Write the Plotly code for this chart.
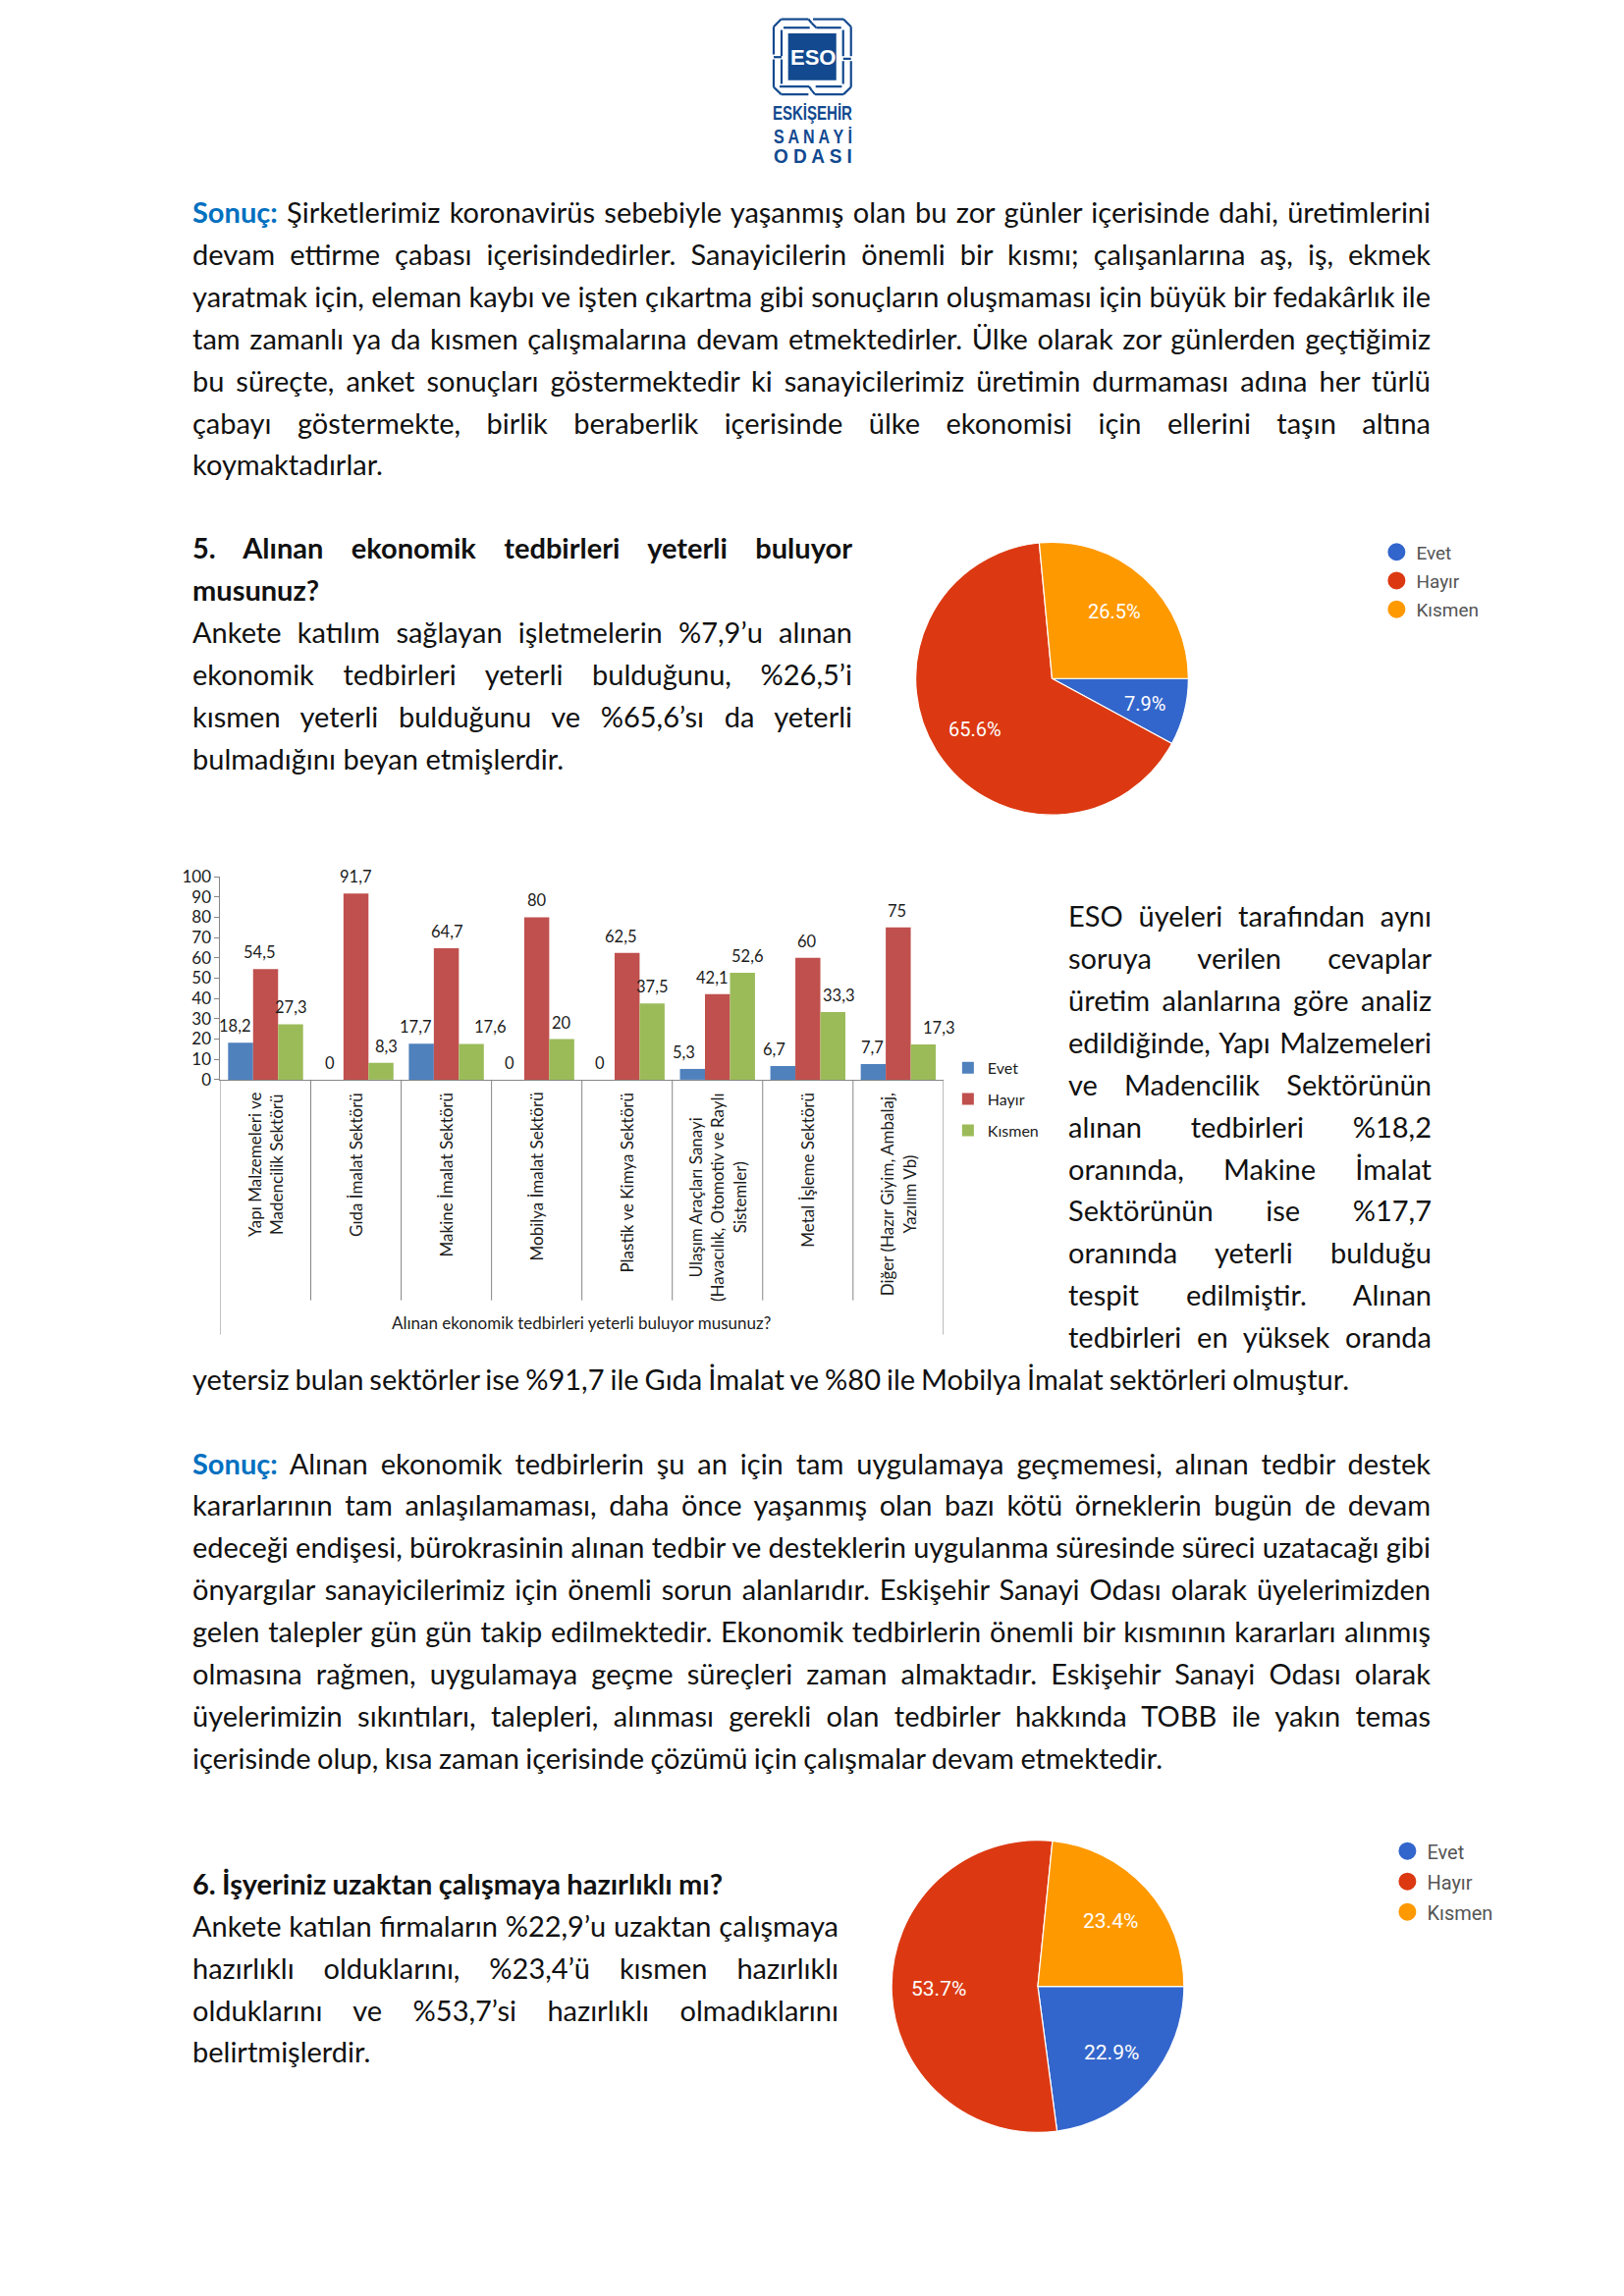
import plotly.graph_objects as go

W, H = 1654, 2339
def fx(p): return (1.0012 * p - 3.3) / W
def fy(p): return 1 - (1.00813 * p - 12.2) / H

# ---------- chart data ----------
CATEGORIES = ["Yapı Malzemeleri ve<br>Madencilik Sektörü", "Gıda İmalat Sektörü", "Makine İmalat Sektörü",
              "Mobilya İmalat Sektörü", "Plastik ve Kimya Sektörü",
              "Ulaşım Araçları Sanayi<br>(Havacılık, Otomotiv ve Raylı<br>Sistemler)",
              "Metal İşleme Sektörü", "Diğer (Hazır Giyim, Ambalaj,<br>Yazılım Vb)"]
SERIES_NAMES = ["Evet", "Hayır", "Kısmen"]
EVET = [18.2, 0, 17.7, 0, 0, 5.3, 6.7, 7.7]
HAYIR = [54.5, 91.7, 64.7, 80, 62.5, 42.1, 60, 75]
KISMEN = [27.3, 8.3, 17.6, 20, 37.5, 52.6, 33.3, 17.3]
BAR_TICKS = [0, 10, 20, 30, 40, 50, 60, 70, 80, 90, 100]
AXIS_TITLE = "Alınan ekonomik tedbirleri yeterli buluyor musunuz?"
PIE1 = [7.9, 65.6, 26.5]
PIE2 = [22.9, 53.7, 23.4]

# small horizontal nudges of the value labels (px)
NUDGE_EVET = [-6, -1, -6, -2, -2, -9, -9, -1]
NUDGE_HAYIR = [-6, -1, 0, 0, -7, -6, -1, -1]
NUDGE_KISMEN = [0, 6, 19, 0, 0, 5, 6, 16]

# ---------- page text ----------
LEFT, RIGHT = 197, 1458
BLOCK1 = ["<b><span style='color:#0070C0'>Sonuç:</span></b> Şirketlerimiz koronavirüs sebebiyle yaşanmış olan bu zor günler içerisinde dahi, üretimlerini",
          "devam ettirme çabası içerisindedirler. Sanayicilerin önemli bir kısmı; çalışanlarına aş, iş, ekmek",
          "yaratmak için, eleman kaybı ve işten çıkartma gibi sonuçların oluşmaması için büyük bir fedakârlık ile",
          "tam zamanlı ya da kısmen çalışmalarına devam etmektedirler. Ülke olarak zor günlerden geçtiğimiz",
          "bu süreçte, anket sonuçları göstermektedir ki sanayicilerimiz üretimin durmaması adına her türlü",
          "çabayı göstermekte, birlik beraberlik içerisinde ülke ekonomisi için ellerini taşın altına"]
BLOCK1_LAST = "koymaktadırlar."
BLOCK2 = ["<b>5. Alınan ekonomik tedbirleri yeterli buluyor</b>"]
BLOCK2B = ["Ankete katılım sağlayan işletmelerin %7,9’u alınan",
           "ekonomik tedbirleri yeterli bulduğunu, %26,5’i",
           "kısmen yeterli bulduğunu ve %65,6’sı da yeterli"]
BLOCK3 = ["ESO üyeleri tarafından aynı", "soruya verilen cevaplar", "üretim alanlarına göre analiz",
          "edildiğinde, Yapı Malzemeleri", "ve Madencilik Sektörünün", "alınan tedbirleri %18,2",
          "oranında, Makine İmalat", "Sektörünün ise %17,7", "oranında yeterli bulduğu",
          "tespit edilmiştir. Alınan", "tedbirleri en yüksek oranda"]
BLOCK4 = ["<b><span style='color:#0070C0'>Sonuç:</span></b> Alınan ekonomik tedbirlerin şu an için tam uygulamaya geçmemesi, alınan tedbir destek",
          "kararlarının tam anlaşılamaması, daha önce yaşanmış olan bazı kötü örneklerin bugün de devam",
          "edeceği endişesi, bürokrasinin alınan tedbir ve desteklerin uygulanma süresinde süreci uzatacağı gibi",
          "önyargılar sanayicilerimiz için önemli sorun alanlarıdır. Eskişehir Sanayi Odası olarak üyelerimizden",
          "gelen talepler gün gün takip edilmektedir. Ekonomik tedbirlerin önemli bir kısmının kararları alınmış",
          "olmasına rağmen, uygulamaya geçme süreçleri zaman almaktadır. Eskişehir Sanayi Odası olarak",
          "üyelerimizin sıkıntıları, talepleri, alınması gerekli olan tedbirler hakkında TOBB ile yakın temas"]
BLOCK5 = ["Ankete katılan firmaların %22,9’u uzaktan çalışmaya", "hazırlıklı olduklarını, %23,4’ü kısmen hazırlıklı",
          "olduklarını ve %53,7’si hazırlıklı olmadıklarını"]

annotations = []
def text_line(txt, x, y, right=None, size=29, color="#111111", family="Lato", mode="j"):
    annotations.append(dict(text=txt, xref="paper", yref="paper", x=fx(x), y=fy(y), xanchor="left", yanchor="middle",
                            align="left", showarrow=False, font=dict(family=family, size=size, color=color),
                            name=f"{mode}:{right - x}" if right else "n"))

for i, t in enumerate(BLOCK1):
    text_line(t, LEFT, 216.5 + i * 43, RIGHT)
text_line(BLOCK1_LAST, LEFT, 474.5)
text_line(BLOCK2[0], LEFT, 559, 869)
text_line("<b>musunuz?</b>", LEFT, 602)
for i, t in enumerate(BLOCK2B):
    text_line(t, LEFT, 645.5 + i * 43, 869)
text_line("bulmadığını beyan etmişlerdir.", LEFT, 774.5, 575)
for i, t in enumerate(BLOCK3):
    text_line(t, 1088, 934.5 + i * 42.95, RIGHT)
text_line("yetersiz bulan sektörler ise %91,7 ile Gıda İmalat ve %80 ile Mobilya İmalat sektörleri olmuştur.", LEFT, 1406.5, 1375)
for i, t in enumerate(BLOCK4):
    text_line(t, LEFT, 1492.5 + i * 43, RIGHT)
text_line("içerisinde olup, kısa zaman içerisinde çözümü için çalışmalar devam etmektedir.", LEFT, 1793, 1185)
text_line("<b>6. İşyeriniz uzaktan çalışmaya hazırlıklı mı?</b>", LEFT, 1921, 737)
for i, t in enumerate(BLOCK5):
    text_line(t, LEFT, 1964.5 + i * 43, 855)
text_line("belirtmişlerdir.", LEFT, 2093)

# ---------- logo ----------
LOGO_BLUE = "#12498F"
shapes = []
LOGO_SEGMENTS = [(165,62,248,62),(248,62,258,74),(262,62,355,62),(165,292,248,292),(268,292,355,292),(258,280,268,292),
                 (142,85,142,170),(142,185,142,270),(378,85,378,175),(378,190,378,270),
                 (142,85,165,62),(355,62,378,85),(142,270,165,292),(355,292,378,270),
                 (172,88,252,88),(272,88,348,88),(160,268,250,268),(270,268,350,268),
                 (166,95,166,175),(166,185,166,260),(354,95,354,175),(354,190,354,260),
                 (142,178,166,178),(354,183,378,183),(258,74,272,88),(250,268,258,280)]
for a, b, c, d in LOGO_SEGMENTS:
    shapes.append(dict(type="line", xref="paper", yref="paper", x0=fx(743 + a / 3), y0=fy(b / 3), x1=fx(743 + c / 3), y1=fy(d / 3),
                       line=dict(color=LOGO_BLUE, width=2.2)))
shapes.append(dict(type="rect", xref="paper", yref="paper", x0=fx(805), y0=fy(35), x1=fx(854), y1=fy(83),
                   fillcolor=LOGO_BLUE, line=dict(width=0), layer="below"))
annotations.append(dict(text="<b>ESO</b>", xref="paper", yref="paper", x=fx(830), y=fy(60), xanchor="center", yanchor="middle",
                        showarrow=False, name="n", font=dict(family="Liberation Sans", size=22, color="white")))
text_line("<b>ESKİŞEHİR</b>", 787, 116, 868, size=20, color=LOGO_BLUE, family="Liberation Sans", mode="s")
text_line("<b>S A N A Y İ</b>", 788, 140, 868, size=20, color=LOGO_BLUE, family="Liberation Sans", mode="s")
text_line("<b>O D A S I</b>", 788, 160, 868, size=20, color=LOGO_BLUE, family="Liberation Sans", mode="s")

# ---------- bar chart ----------
BAR_COLORS = ["#4F81BD", "#C0504D", "#9BBB59"]
AXIS_GREY = "#868686"
CHART_FONT = "Lato"
CHART_TEXT = "#1c1c1c"
BAR_L, BAR_R, BAR_T, BAR_B = 227.5, 963, 895, 1102

fig = go.Figure()
series = [EVET, HAYIR, KISMEN]
nudges = [NUDGE_EVET, NUDGE_HAYIR, NUDGE_KISMEN]
for name, vals, col in zip(SERIES_NAMES, series, BAR_COLORS):
    fig.add_trace(go.Bar(x=CATEGORIES, y=vals, name=name, marker=dict(color=col, line=dict(width=0)), legendgroup="b" + name))

slot = (BAR_R - BAR_L) / len(CATEGORIES) * (1 - 0.17) / 3
for s, (vals, nud) in enumerate(zip(series, nudges)):
    for c, v, n in zip(CATEGORIES, vals, nud):
        annotations.append(dict(text=str(v).replace(".", ","), x=c, y=v, xref="x", yref="y", showarrow=False, name="n",
                                xshift=(s - 1) * slot + n, yshift=17, xanchor="center", yanchor="middle",
                                font=dict(family=CHART_FONT, size=16.5, color=CHART_TEXT)))
for c in CATEGORIES:
    annotations.append(dict(text=c, x=c, xref="x", yref="paper", y=fy(1113), yanchor="top", xanchor="center", textangle=-90,
                            align="center", showarrow=False, name="n",
                            font=dict(family=CHART_FONT, size=17, color=CHART_TEXT)))
annotations.append(dict(text=AXIS_TITLE, xref="paper", yref="paper", x=fx(595), y=fy(1350), xanchor="center", yanchor="middle",
                        showarrow=False, name="n", font=dict(family=CHART_FONT, size=17, color=CHART_TEXT)))
for i in range(len(CATEGORIES) + 1):
    outer = i in (0, len(CATEGORIES))
    shapes.append(dict(type="line", xref="x", yref="paper", x0=i - 0.5, x1=i - 0.5, y0=fy(BAR_B), y1=fy(1362 if outer else 1327),
                       line=dict(color=AXIS_GREY, width=1)))

# ---------- pies ----------
PIE_COLORS = ["#3366CC", "#DC3912", "#FF9900"]
def add_pie(vals, cx, cy, r, legend, size, label_xy):
    fig.add_trace(go.Pie(values=vals, labels=SERIES_NAMES, sort=False, direction="clockwise", rotation=90,
                         marker=dict(colors=PIE_COLORS, line=dict(color="white", width=1.2)), showlegend=False,
                         textinfo="none",
                         domain=dict(x=[fx(cx - r), fx(cx + r)], y=[fy(cy + r), fy(cy - r)])))
    for v, (lx, ly) in zip(vals, label_xy):
        annotations.append(dict(text=f"{v}%", xref="paper", yref="paper", x=fx(lx), y=fy(ly), xanchor="center", yanchor="middle",
                                showarrow=False, name="n", font=dict(family="Roboto", size=size, color="white")))
    for name, col in zip(SERIES_NAMES, PIE_COLORS):
        fig.add_trace(go.Scatter(x=[None], y=[None], mode="markers", name=name, legend=legend, legendgroup=legend + name,
                                 marker=dict(color=col, size=16, line=dict(color=col, width=2))))

add_pie(PIE1, 1073.5, 693, 139, "legend2", 20, [(1168, 719), (995, 745), (1137, 625)])
add_pie(PIE2, 1059, 2026.5, 149, "legend3", 21, [(1134, 2094), (958, 2029), (1133, 1960)])

def legend_cfg(x, y, size, gap, family):
    return dict(x=fx(x), y=fy(y), xanchor="left", yanchor="top", bgcolor="rgba(0,0,0,0)", tracegroupgap=gap,
                font=dict(family=family, size=size, color="#555555"))

fig.update_layout(
    width=W, height=H, margin=dict(l=0, r=0, t=0, b=0), paper_bgcolor="white", plot_bgcolor="white",
    barmode="group", bargap=0.17, bargroupgap=0, showlegend=True, annotations=annotations, shapes=shapes,
    xaxis=dict(domain=[fx(BAR_L), fx(BAR_R)], range=[-0.5, len(CATEGORIES) - 0.5], type="category", categoryorder="array",
               categoryarray=CATEGORIES, showticklabels=False, ticks="", showline=True, linecolor=AXIS_GREY, showgrid=False, zeroline=False),
    yaxis=dict(domain=[fy(BAR_B), fy(BAR_T)], range=[0, 100], tickvals=BAR_TICKS, ticks="outside", ticklen=5, tickcolor=AXIS_GREY,
               showline=True, linecolor=AXIS_GREY, showgrid=False, zeroline=False,
               tickfont=dict(family=CHART_FONT, size=17, color=CHART_TEXT)),
    legend=dict(legend_cfg(968, 1073, 16, 8, CHART_FONT), font=dict(family=CHART_FONT, size=16, color=CHART_TEXT)),
    legend2=legend_cfg(1404, 545, 19, 1.5, "Roboto"),
    legend3=legend_cfg(1415, 1869, 20, 2, "Roboto"),
)

POST = """
document.documentElement.style.margin = '0';
document.documentElement.style.overflow = 'hidden';
document.body.style.margin = '0';
document.body.style.overflow = 'hidden';
var gd = document.querySelector('.plotly-graph-div');
(gd.layout.annotations || []).forEach(function (a, i) {
  if (!a.name || a.name.indexOf(':') < 0) return;
  var mode = a.name.charAt(0), target = parseFloat(a.name.slice(2));
  var el = gd.querySelector('.annotation[data-index="' + i + '"] text.annotation-text');
  if (!el) return;
  var len = el.getComputedTextLength();
  if (mode === 'j') {
    var n = el.textContent.split(' ').length - 1;
    if (n) el.style.wordSpacing = ((target - len) / n) + 'px';
  } else {
    var x0 = parseFloat(el.getAttribute('x')) || 0;
    el.setAttribute('transform', 'translate(' + x0 + ',0) scale(' + (target / len) + ',1) translate(' + (-x0) + ',0)');
  }
});
"""
fig.write_html("out.html", post_script=POST, config=dict(displayModeBar=False))
